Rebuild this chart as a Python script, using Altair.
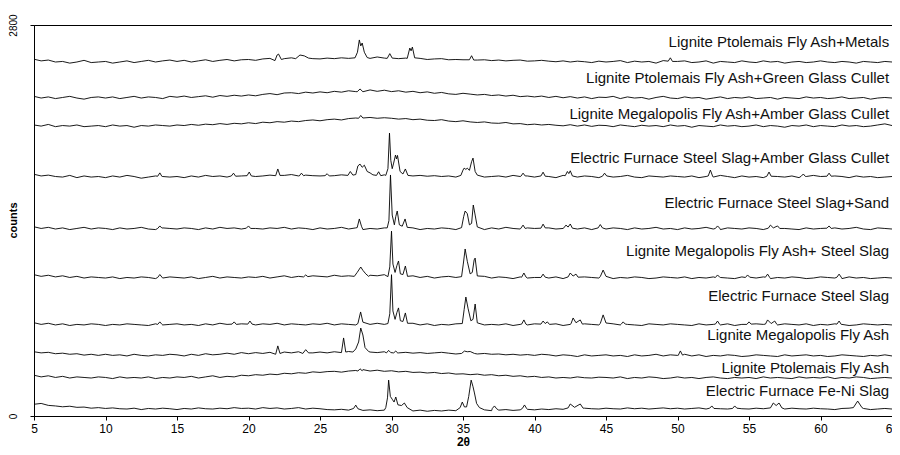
import altair as alt
import pandas as pd

SAMPLES = [
    "Lignite Ptolemais Fly Ash+Metals",
    "Lignite Ptolemais Fly Ash+Green Glass Cullet",
    "Lignite Megalopolis Fly Ash+Amber Glass Cullet",
    "Electric Furnace Steel Slag+Amber Glass Cullet",
    "Electric Furnace Steel Slag+Sand",
    "Lignite Megalopolis Fly Ash+ Steel Slag",
    "Electric Furnace Steel Slag",
    "Lignite Megalopolis Fly Ash",
    "Lignite Ptolemais Fly Ash",
    "Electric Furnace Fe-Ni Slag",
]
# vertical offset (counts) of each pattern in the stack
OFFSETS = [2535, 2277, 2076, 1711, 1339, 988, 652, 430, 272, 50]
# counts level of each pattern's name label
LABEL_COUNTS = [2678, 2420, 2162, 1847, 1525, 1181, 859, 580, 344, 179]
X_TICKS = [5, 10, 15, 20, 25, 30, 35, 40, 45, 50, 55, 60, 65]
Y_TICKS = [0, 2800]

# background readings every 0.5 deg from 5 to 65 (counts above offset)
THETA_GRID = [5 + 0.5 * i for i in range(121)]

bg_metals = [20, 8, 14, 0, 4, -8, 0, 12, -4, 0,
             4, -8, 0, 8, -4, 4, 12, 0, 8, 14,
             4, 12, 0, 8, 16, 4, 12, 18, 8, 16,
             18, 12, 22, 26, 34, 24, 30, 36, 30, 24,
             22, 28, 24, 30, 26, 32, 40, 26, 36, 28,
             32, 24, 28, 20, 26, 18, 22, 24, 16, 18,
             16, 26, 14, 16, 10, 14, 8, 12, 14, 6,
             8, 12, 6, 2, 8, 0, 6, 2, -4, 6,
             0, 4, 10, -4, 6, 0, 4, -8, 10, 20,
             4, 8, -4, 0, 8, -8, 4, 0, -4, 8,
             0, -4, 8, 0, 4, -8, 0, 4, -4, 0,
             8, 0, -4, 4, 0, -8, 4, 0, -4, 4,
             0]
bg_green = [12, 0, 8, -4, 4, 12, 0, -8, 4, 8,
            0, 8, -4, 4, 12, 0, 8, 4, -4, 12,
            6, 14, 4, 10, 16, 6, 18, 12, 20, 14,
            22, 16, 26, 32, 24, 36, 38, 32, 42, 36,
            44, 38, 48, 42, 52, 46, 54, 58, 48, 56,
            46, 52, 42, 48, 38, 44, 34, 40, 30, 26,
            34, 28, 22, 26, 18, 22, 14, 20, 10, 14,
            8, 14, 4, 12, 2, 10, 0, 8, -4, 6,
            4, 12, -4, 8, 0, 4, -8, 4, 12, 0,
            -4, 8, 0, 4, -8, 0, 8, -4, 4, 0,
            8, -4, 0, 4, -8, 4, 0, -4, 8, 0,
            4, -4, 0, 8, -4, 0, 4, -8, 0, 4,
            0]
bg_mega_amber = [8, 0, 12, -4, 4, 0, 8, -4, 0, 4,
                 -4, 8, 0, 4, -8, 4, 0, 8, 4, 0,
                 8, 4, 12, 6, 14, 10, 18, 12, 20, 16,
                 24, 18, 28, 24, 32, 28, 36, 32, 40, 44,
                 38, 46, 50, 44, 54, 58, 50, 62, 56, 60,
                 56, 50, 54, 46, 50, 42, 40, 46, 36, 32,
                 38, 30, 26, 30, 22, 20, 26, 16, 18, 10,
                 14, 8, 12, 6, 2, 10, 0, 8, -2, 6,
                 4, -4, 8, 2, -4, 6, 0, 4, -4, 8,
                 0, 4, -8, 4, 0, -4, 8, 0, 4, -4,
                 0, 8, -4, 4, 0, -8, 4, 0, 8, -4,
                 4, 0, -4, 8, 0, 4, -4, 0, 8, 16,
                 4]
bg_ef_amber = [20, 8, 14, 4, 0, 12, -4, 8, 0, 4,
               -4, 8, 0, 12, 4, -8, 0, 8, 4, 0,
               4, -4, 8, 0, 12, 4, 8, 0, 14, 8,
               12, 4, 8, 14, 4, 12, 18, 8, 14, 10,
               8, 14, 10, 16, 18, 12, 20, 14, 22, 16,
               20, 14, 16, 8, 12, 6, 10, 4, 8, 0,
               4, 12, 8, 0, 4, 8, 0, 12, 4, 8,
               0, 8, 4, -4, 12, 4, 0, 8, 4, -4,
               8, 0, 4, 12, 0, -4, 8, 4, 0, 8,
               4, 0, 8, -4, 4, 0, 12, 4, -4, 8,
               0, 4, -4, 8, 4, 0, 8, -4, 4, 12,
               4, 0, 8, 4, -4, 8, 0, 4, -4, 0,
               4]
bg_ef_sand = [16, 4, 12, 0, 8, -4, 4, 12, 0, 8,
              4, -4, 8, 0, 4, 12, 0, -4, 8, 4,
              0, 8, 4, -4, 8, 0, 12, 4, 8, 0,
              12, 4, 0, 8, 4, 12, 0, 8, 4, -4,
              8, 0, 4, 12, 0, 8, -4, 4, 0, 8,
              4, 12, 0, 8, -4, 4, 0, 8, 4, -4,
              8, 0, 4, -4, 8, 0, 12, 4, 0, 8,
              4, -4, 8, 0, 4, 12, 0, 8, -4, 4,
              0, 8, 4, -4, 8, 0, 4, 12, 0, 4,
              -4, 8, 0, 4, 12, 0, -4, 8, 4, 0,
              8, 4, -4, 0, 8, 4, 0, -4, 8, 0,
              4, -4, 8, 0, 4, 12, 0, -4, 8, 4,
              0]
bg_mega_slag = [24, 12, 20, 8, 16, 4, 12, 0, 8, 4,
                0, 8, -4, 4, 0, 8, 4, -4, 0, 8,
                4, 0, 8, -4, 4, 12, 0, 8, 4, 0,
                8, 4, 12, 0, 8, 16, 4, 12, 8, 16,
                12, 8, 20, 12, 16, 24, 12, 20, 16, 24,
                12, 20, 8, 16, 4, 12, 0, 8, 12, 4,
                8, 0, 4, 12, 0, 8, 4, -4, 8, 0,
                4, 12, 0, 8, -4, 4, 0, 8, 4, 0,
                8, -4, 4, 0, 8, 4, -4, 0, 8, 4,
                0, 8, -4, 4, 0, 8, 4, 0, -4, 8,
                4, 0, 8, -4, 4, 0, 8, 4, -4, 0,
                8, 4, 0, -4, 8, 0, 4, -4, 0, 4,
                0]
bg_ef_slag = [16, 4, 12, 0, 8, -4, 4, 0, 8, 4,
              -4, 4, 0, 8, 4, 0, -4, 8, 0, 4,
              8, 0, 4, -4, 8, 0, 12, 4, 0, 8,
              4, 0, 8, 4, 12, 0, 8, 4, 0, 8,
              4, 12, 0, 8, 4, 0, 8, 4, 12, 4,
              8, 0, 4, 12, 0, 8, -4, 4, 0, 8,
              4, -4, 8, 0, 4, 0, 8, -4, 4, 0,
              8, 4, 0, 8, -4, 4, 0, 8, 4, 0,
              -4, 8, 0, 4, 0, -4, 8, 4, 0, 8,
              4, 0, -4, 8, 0, 4, 0, 8, -4, 4,
              0, 8, 4, -4, 0, 8, 4, 0, 8, -4,
              4, 0, 8, 4, -4, 0, 8, 4, 0, 4,
              0]
bg_mega_fa = [30, 22, 26, 16, 20, 12, 16, 6, 12, 4,
              12, 4, 8, 0, 12, 4, 0, 8, 4, 12,
              8, 0, 12, 4, 16, 8, 12, 20, 12, 24,
              16, 24, 18, 26, 20, 28, 22, 30, 24, 22,
              28, 22, 30, 24, 32, 26, 34, 28, 24, 30,
              28, 22, 26, 20, 24, 18, 22, 26, 20, 14,
              20, 28, 14, 18, 12, 14, 8, 12, 6, 10,
              4, 12, 8, 0, 8, 4, -4, 8, 0, 4,
              8, 0, 4, -4, 8, 0, 4, 12, 0, 8,
              4, 12, 0, 8, -4, 4, 0, 8, 4, -4,
              0, 8, 4, 0, -4, 8, 0, 4, 8, 0,
              4, -4, 0, 8, 4, 0, -4, 4, 0, 8,
              0]
bg_ptol_fa = [20, 8, 16, 4, 12, 0, 8, 4, 0, 8,
              4, -4, 8, 0, 4, 0, 8, -4, 4, 0,
              8, 4, 12, 0, 8, 16, 4, 12, 8, 20,
              16, 24, 20, 28, 24, 34, 30, 38, 34, 44,
              40, 46, 48, 42, 50, 54, 60, 50, 56, 48,
              52, 44, 48, 40, 42, 36, 40, 32, 36, 28,
              30, 24, 28, 20, 24, 16, 20, 12, 16, 8,
              12, 4, 8, 0, 4, 0, 8, 2, 0, 6,
              4, 0, 8, -4, 4, 0, 8, 4, -4, 0,
              8, 0, 4, -4, 4, 8, 0, -4, 4, 0,
              4, -4, 8, 0, 4, 0, -4, 8, 0, 4,
              0, 8, -4, 4, 0, 8, 4, -4, 0, 4,
              0]
bg_feni = [34, 40, 26, 22, 16, 20, 12, 14, 6, 10,
           4, 8, 2, 0, 6, -4, 4, 0, 6, 2,
           -4, 4, 0, 8, 2, 0, 6, 2, 10, 4,
           6, 0, 10, 4, 8, 0, 4, 10, 0, 6,
           2, -4, -6, -2, -8, -4, -10, -6, -12, -8,
           -12, -16, -10, -14, -8, -16, -10, -14, -8, -12,
           -14, -8, -12, -6, -12, -8, -4, -10, -6, -2,
           -6, 0, -4, 2, -2, 4, 0, 6, 2, 0,
           6, 2, 0, 8, 2, 6, 0, 4, 8, 2,
           6, 0, 4, 8, 0, 6, 2, 0, 6, 2,
           0, 6, 2, -4, 4, 0, 6, 2, 0, 6,
           2, 0, -4, 4, 6, 0, 4, -4, 0, 4,
           0]

# diffraction peaks: (2theta, counts above offset) vertices
pk_metals = [
    [(21.85, 10), (22.0, 50), (22.1, 57), (22.3, 18)],
    [(23.3, 24), (23.6, 50), (23.9, 44), (24.2, 28)],
    [(27.45, 30), (27.62, 70), (27.75, 158), (27.85, 115), (27.95, 136), (28.1, 70), (28.3, 32)],
    [(29.7, 26), (29.88, 60), (30.05, 28)],
    [(31.1, 26), (31.28, 100), (31.37, 80), (31.46, 107), (31.62, 30)],
    [(35.45, 16), (35.6, 45), (35.75, 14)],
    [(49.35, 6), (49.5, 30), (49.65, 4)],
]
pk_green = [
    [(27.6, 45), (27.8, 65), (28.0, 45)],
]
pk_mega_amber = [
    [(27.7, 56), (27.85, 76), (28.0, 58)],
]
pk_ef_amber = [
    [(13.65, 6), (13.8, 30), (13.95, 4)],
    [(18.8, 8), (18.95, 28), (19.1, 6)],
    [(19.9, 10), (20.05, 36), (20.2, 8)],
    [(21.9, 10), (22.05, 58), (22.2, 12)],
    [(23.55, 8), (23.7, 28), (23.85, 10)],
    [(25.35, 10), (25.5, 24), (25.65, 8)],
    [(26.95, 12), (27.12, 40), (27.3, 14)],
    [(27.5, 18), (27.65, 80), (27.8, 93), (27.95, 70), (28.1, 85), (28.3, 40), (28.5, 30), (28.7, 16)],
    [(28.95, 12), (29.1, 38), (29.25, 10)],
    [(29.6, 12), (29.75, 60), (29.86, 315), (29.95, 120), (30.05, 60), (30.15, 100), (30.28, 158),
     (30.35, 130), (30.42, 155), (30.6, 40), (30.8, 22), (30.97, 58), (31.15, 12)],
    [(34.85, 12), (35.0, 50), (35.08, 64), (35.2, 55), (35.3, 64), (35.45, 48), (35.6, 110),
     (35.7, 136), (35.85, 40), (36.0, 14)],
    [(39.05, 6), (39.2, 28), (39.35, 8)],
    [(40.45, 8), (40.6, 35), (40.75, 6)],
    [(42.15, 10), (42.3, 40), (42.4, 25), (42.5, 45), (42.65, 8)],
    [(44.75, 6), (44.9, 28), (45.05, 8)],
    [(52.15, 8), (52.3, 50), (52.45, 8)],
    [(56.25, 6), (56.4, 36), (56.55, 6)],
    [(58.65, 6), (58.8, 22), (58.95, 4)],
    [(60.45, 6), (60.6, 28), (60.75, 6)],
]
pk_ef_sand = [
    [(13.65, 4), (13.8, 22), (13.95, 6)],
    [(19.85, 6), (20.0, 22), (20.15, 4)],
    [(27.6, 10), (27.75, 72), (27.9, 20)],
    [(29.7, 8), (29.82, 60), (29.93, 387), (30.05, 100), (30.2, 30), (30.3, 90), (30.4, 129),
     (30.55, 30), (30.75, 20), (30.95, 72), (31.1, 12)],
    [(34.9, 10), (35.05, 90), (35.15, 129), (35.3, 110), (35.45, 30), (35.6, 40), (35.72, 172),
     (35.85, 100), (36.0, 15)],
    [(39.05, 6), (39.2, 28), (39.35, 4)],
    [(40.45, 6), (40.6, 35), (40.75, 8)],
    [(42.05, 8), (42.2, 28), (42.35, 14), (42.5, 36), (42.65, 6)],
    [(44.45, 8), (44.6, 32), (44.75, 8)],
    [(52.65, 4), (52.8, 22), (52.95, 6)],
    [(56.35, 6), (56.5, 28), (56.7, 8), (57.0, 22), (57.15, 4)],
    [(60.45, 6), (60.6, 22), (60.75, 4)],
]
pk_mega_slag = [
    [(13.65, 4), (13.8, 25), (13.95, 6)],
    [(23.85, 8), (24.0, 22), (24.15, 10)],
    [(27.4, 12), (27.6, 40), (27.85, 79), (28.0, 55), (28.2, 30), (28.4, 12)],
    [(29.75, 10), (29.88, 80), (30.0, 336), (30.1, 100), (30.25, 40), (30.38, 90), (30.49, 122),
     (30.62, 30), (30.8, 25), (30.97, 86), (31.12, 12)],
    [(34.9, 10), (35.02, 100), (35.15, 208), (35.3, 120), (35.5, 30), (35.65, 40), (35.78, 130),
     (35.85, 143), (36.0, 15)],
    [(39.1, 6), (39.26, 36), (39.4, 8)],
    [(40.45, 4), (40.6, 28), (40.75, 6)],
    [(42.35, 8), (42.5, 36), (42.7, 14), (42.9, 28), (43.05, 6)],
    [(44.6, 10), (44.8, 57), (45.0, 12)],
    [(52.65, 4), (52.8, 22), (52.95, 6)],
    [(54.75, 4), (54.9, 22), (55.05, 6)],
    [(56.15, 6), (56.3, 28), (56.45, 4)],
    [(61.15, 6), (61.3, 28), (61.45, 6)],
]
pk_ef_slag = [
    [(13.65, 4), (13.8, 22), (13.95, 4)],
    [(18.85, 6), (19.0, 22), (19.15, 4)],
    [(19.95, 6), (20.1, 28), (20.25, 6)],
    [(27.65, 10), (27.84, 93), (28.0, 20)],
    [(29.75, 10), (29.88, 80), (30.0, 360), (30.1, 100), (30.25, 40), (30.38, 90), (30.49, 122),
     (30.62, 30), (30.8, 25), (30.97, 86), (31.12, 12)],
    [(34.95, 10), (35.08, 110), (35.2, 200), (35.35, 120), (35.55, 30), (35.7, 40), (35.85, 150),
     (36.0, 15)],
    [(39.1, 6), (39.26, 36), (39.4, 6)],
    [(40.45, 6), (40.6, 28), (40.75, 10), (40.9, 22), (41.05, 4)],
    [(42.55, 8), (42.7, 50), (42.9, 16), (43.2, 36), (43.35, 6)],
    [(44.6, 10), (44.8, 72), (45.0, 14)],
    [(46.05, 4), (46.2, 22), (46.35, 6)],
    [(52.65, 6), (52.8, 28), (52.95, 4)],
    [(54.85, 4), (55.0, 22), (55.15, 6)],
    [(56.15, 6), (56.3, 36), (56.55, 10), (56.8, 28), (56.95, 4)],
    [(61.15, 6), (61.3, 28), (61.45, 4)],
]
pk_mega_fa = [
    [(21.9, 12), (22.05, 72), (22.2, 18)],
    [(23.8, 18), (24.0, 45), (24.2, 22)],
    [(26.5, 24), (26.65, 129), (26.8, 28)],
    [(27.3, 28), (27.5, 50), (27.7, 100), (27.85, 200), (28.0, 150), (28.15, 60), (28.4, 32)],
    [(29.65, 22), (29.8, 40), (29.95, 24), (30.15, 22), (30.3, 35), (30.45, 20)],
    [(34.9, 18), (35.1, 35), (35.3, 30), (35.5, 32), (35.8, 18)],
    [(50.05, 4), (50.2, 36), (50.35, 6)],
]
pk_ptol_fa = [
    [(27.65, 50), (27.8, 66), (27.95, 52)],
]
pk_feni = [
    [(27.35, 4), (27.5, 28), (27.65, 2)],
    [(29.6, 10), (29.72, 80), (29.8, 207), (29.92, 90), (30.05, 70), (30.18, 50), (30.3, 86),
     (30.45, 30), (30.7, 25), (30.9, 43), (31.1, 10)],
    [(34.8, 10), (34.95, 50), (35.1, 15)],
    [(35.25, 15), (35.4, 90), (35.57, 207), (35.7, 160), (35.8, 115), (35.95, 40), (36.15, 10)],
    [(37.05, 4), (37.2, 22), (37.35, 2)],
    [(39.15, 4), (39.3, 29), (39.45, 4)],
    [(42.35, 8), (42.5, 36), (42.8, 12), (43.2, 36), (43.4, 6)],
    [(52.25, 6), (52.4, 22), (52.55, 4)],
    [(53.85, 4), (54.0, 22), (54.15, 6)],
    [(56.5, 8), (56.7, 43), (56.9, 25), (57.1, 43), (57.3, 8)],
    [(62.3, 10), (62.6, 57), (62.9, 10)],
]

BACKGROUNDS = [bg_metals, bg_green, bg_mega_amber, bg_ef_amber, bg_ef_sand,
               bg_mega_slag, bg_ef_slag, bg_mega_fa, bg_ptol_fa, bg_feni]
PEAKS = [pk_metals, pk_green, pk_mega_amber, pk_ef_amber, pk_ef_sand,
         pk_mega_slag, pk_ef_slag, pk_mega_fa, pk_ptol_fa, pk_feni]

# ---- build the long table ----
rows = []
for k, name in enumerate(SAMPLES):
    spans = [(c[0][0], c[-1][0]) for c in PEAKS[k]]
    pts = [(t, v) for t, v in zip(THETA_GRID, BACKGROUNDS[k])
           if not any(a <= t <= b for a, b in spans)]
    for cluster in PEAKS[k]:
        pts.extend(cluster)
    pts.sort()
    for i, (t, v) in enumerate(pts):
        rows.append({"sample": name, "theta": t, "counts": OFFSETS[k] + v, "i": i})
df = pd.DataFrame(rows)

LABEL_THETA = 64.8
lab_df = pd.DataFrame({"sample": SAMPLES, "counts": LABEL_COUNTS,
                       "theta": [LABEL_THETA] * len(SAMPLES)})

FONT = "Liberation Sans"

x_enc = alt.X("theta:Q",
              scale=alt.Scale(domain=[5, 65], nice=False, zero=False),
              axis=alt.Axis(values=X_TICKS, title="2θ", grid=False, tickSize=4,
                            format="d",
                            labelFontSize=12, labelPadding=3, labelFlush=False,
                            titleFontSize=12, titleFontWeight="bold",
                            titleY=29, titleBaseline="alphabetic"))
y_enc = alt.Y("counts:Q",
              scale=alt.Scale(domain=[0, 2800], nice=False, zero=False),
              axis=alt.Axis(values=Y_TICKS, title="counts", grid=False, tickSize=4,
                            format="d",
                            labelAngle=270, labelAlign="center", labelBaseline="bottom",
                            labelFontSize=10, labelPadding=12, labelFlush=False,
                            titleFontSize=11, titleFontWeight="bold", titleAngle=270,
                            titleX=-21, titleY=195, titleAlign="center",
                            titleBaseline="middle"))

lines = alt.Chart(df).mark_line(color="black", strokeWidth=0.9).encode(
    x=x_enc, y=y_enc, detail="sample:N", order="i:Q")

labels = alt.Chart(lab_df).mark_text(
    align="right", baseline="middle", font=FONT, fontSize=15, color="#111111"
).encode(x="theta:Q", y="counts:Q", text="sample:N")

chart = alt.layer(lines, labels).properties(
    width=858, height=391,
    autosize=alt.AutoSizeParams(type="none"),
    padding={"left": 26, "top": 17, "right": 0, "bottom": 31},
).configure_view(stroke="black", strokeWidth=1).configure_axis(
    domainColor="black", tickColor="black", labelColor="black", titleColor="black",
    labelFont=FONT, titleFont=FONT, domainWidth=1,
)

chart.save("out.html", embed_options={"renderer": "svg", "actions": False})
